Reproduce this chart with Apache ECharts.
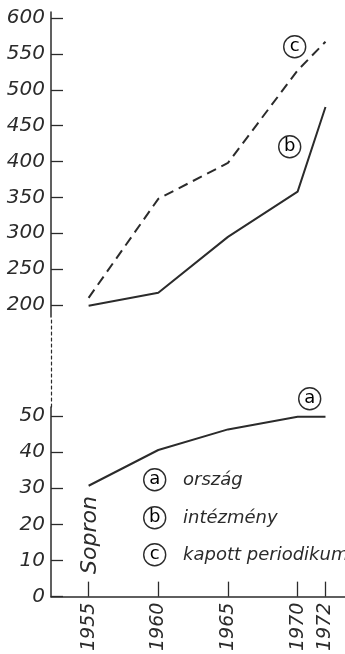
<!DOCTYPE html>
<html><head><meta charset="utf-8">
<script src="https://cdn.jsdelivr.net/npm/echarts@6/dist/echarts.min.js"></script>
<style>html,body{margin:0;padding:0;background:#fff}#c{width:345px;height:654px}</style>
</head><body><div id="c"></div>
<script>
const years = [1955, 1960, 1965, 1970, 1972];
const orszag = [30.7, 40.6, 46.3, 49.8, 49.8];
const intezmeny = [199, 217, 295, 358, 476];
const kapott = [210, 348, 398, 527, 567];
const upperTicks = [200, 250, 300, 350, 400, 450, 500, 550, 600];
const lowerTicks = [0, 10, 20, 30, 40, 50];
const legendItems = [['a', 'ország'], ['b', 'intézmény'], ['c', 'kapott periodikumok']];
const note = 'Sopron';

const INK = '#2b2b2b';
const FONT = 'DejaVu Sans';
const zip = (v) => years.map((y, i) => [y, v[i]]);

const chart = echarts.init(document.getElementById('c'), null, {renderer: 'canvas'});
const xBase = {type: 'value', min: 1952.3, max: 1973.4, splitLine: {show: false}};
const hiddenX = Object.assign({}, xBase, {show: false});
const circ = {width: 22, height: 22, lineHeight: 22, borderRadius: 12, borderWidth: 1.4, borderColor: INK,
  align: 'center', fontSize: 18, fontFamily: FONT, color: INK};

function circled(letter, x, y) {
  return {type: 'text', left: x - 12, top: y - 12, style: {text: '{c|' + letter + '}', rich: {c: circ}}};
}

const graphics = [];
legendItems.forEach((it, i) => {
  const y = [480, 518, 555][i];
  graphics.push(circled(it[0], 155, y));
  graphics.push({type: 'text', x: 183, y: y, style: {text: it[1], font: 'italic 18px "DejaVu Sans"', fill: INK, verticalAlign: 'middle'}});
});
graphics.push(circled('c', 295, 47));
graphics.push(circled('b', 290, 147));
graphics.push(circled('a', 310, 399));
graphics.push({type: 'text', x: 90, y: 574, rotation: Math.PI / 2,
  style: {text: note, font: 'italic 22px "DejaVu Sans"', fill: INK, align: 'left', verticalAlign: 'middle'}});

const yLabel = {margin: 6, color: INK, fontSize: 20, fontStyle: 'italic', fontFamily: FONT};

chart.setOption({
  backgroundColor: '#fff',
  animation: false,
  grid: [
    {left: 51, width: 294, top: 12, height: 305},
    {left: 51, width: 294, top: 317, height: 90},
    {left: 51, width: 294, top: 407, height: 190}
  ],
  xAxis: [
    Object.assign({gridIndex: 0}, hiddenX),
    Object.assign({gridIndex: 1}, hiddenX),
    Object.assign({gridIndex: 2}, xBase, {
      axisLine: {lineStyle: {color: INK, width: 1.5}},
      axisTick: {inside: true, length: 15, customValues: years, lineStyle: {color: INK, width: 1.3}},
      axisLabel: {customValues: years, rotate: 90, margin: 6, color: INK, fontSize: 19, fontStyle: 'italic', fontFamily: FONT,
        formatter: (v) => String(v)}
    })
  ],
  yAxis: [
    {gridIndex: 0, type: 'value', min: 183.3, max: 608.4, splitLine: {show: false},
      axisLine: {show: true, lineStyle: {color: INK, width: 1.5}},
      axisTick: {show: true, inside: true, length: 12, customValues: upperTicks, lineStyle: {color: INK, width: 1.3}},
      axisLabel: Object.assign({customValues: upperTicks}, yLabel)},
    {gridIndex: 1, type: 'value', min: 0, max: 1, splitLine: {show: false},
      axisLine: {show: true, lineStyle: {color: INK, width: 1.2, type: [3, 3]}},
      axisTick: {show: false}, axisLabel: {show: false}},
    {gridIndex: 2, type: 'value', min: 0, max: 52.5, splitLine: {show: false},
      axisLine: {show: true, lineStyle: {color: INK, width: 1.5}},
      axisTick: {show: true, inside: true, length: 12, customValues: lowerTicks, lineStyle: {color: INK, width: 1.3}},
      axisLabel: Object.assign({customValues: lowerTicks}, yLabel)}
  ],
  series: [
    {name: 'kapott periodikumok', type: 'line', xAxisIndex: 0, yAxisIndex: 0, data: zip(kapott), symbol: 'none',
      lineStyle: {color: INK, width: 2, type: [10, 6]}},
    {name: 'intézmény', type: 'line', xAxisIndex: 0, yAxisIndex: 0, data: zip(intezmeny), symbol: 'none',
      lineStyle: {color: INK, width: 2}},
    {name: 'ország', type: 'line', xAxisIndex: 2, yAxisIndex: 2, data: zip(orszag), symbol: 'none',
      lineStyle: {color: INK, width: 2}}
  ],
  graphic: graphics
});
</script></body></html>
